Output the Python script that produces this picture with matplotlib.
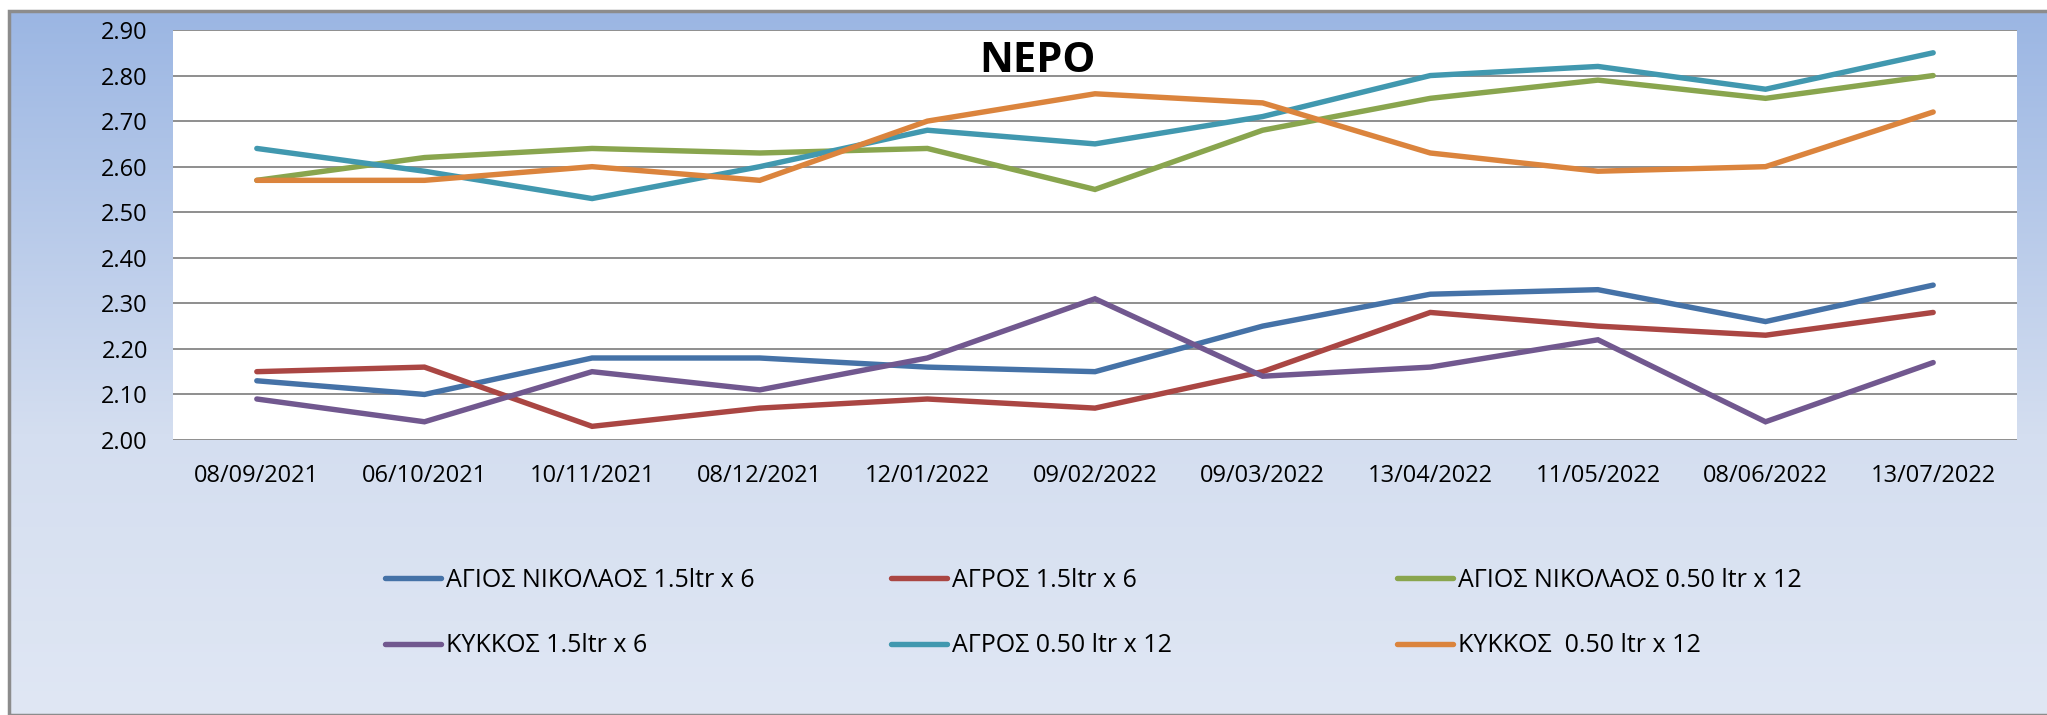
import numpy as np
import matplotlib.pyplot as plt
from matplotlib.patches import Rectangle

plt.rcParams['font.family'] = ['Open Sans', 'DejaVu Sans']

dates = ['08/09/2021', '06/10/2021', '10/11/2021', '08/12/2021', '12/01/2022', '09/02/2022',
         '09/03/2022', '13/04/2022', '11/05/2022', '08/06/2022', '13/07/2022']

agios_15 = [2.13, 2.10, 2.18, 2.18, 2.16, 2.15, 2.25, 2.32, 2.33, 2.26, 2.34]
agros_15 = [2.15, 2.16, 2.03, 2.07, 2.09, 2.07, 2.15, 2.28, 2.25, 2.23, 2.28]
agios_050 = [2.57, 2.62, 2.64, 2.63, 2.64, 2.55, 2.68, 2.75, 2.79, 2.75, 2.80]
kykkos_15 = [2.09, 2.04, 2.15, 2.11, 2.18, 2.31, 2.14, 2.16, 2.22, 2.04, 2.17]
agros_050 = [2.64, 2.59, 2.53, 2.60, 2.68, 2.65, 2.71, 2.80, 2.82, 2.77, 2.85]
kykkos_050 = [2.57, 2.57, 2.60, 2.57, 2.70, 2.76, 2.74, 2.63, 2.59, 2.60, 2.72]

names = ['ΑΓΙΟΣ ΝΙΚΟΛΑΟΣ 1.5ltr x 6', 'ΑΓΡΟΣ 1.5ltr x 6', 'ΑΓΙΟΣ ΝΙΚΟΛΑΟΣ 0.50 ltr x 12',
         'ΚΥΚΚΟΣ 1.5ltr x 6', 'ΑΓΡΟΣ 0.50 ltr x 12', 'ΚΥΚΚΟΣ  0.50 ltr x 12']
series = [agios_15, agros_15, agios_050, kykkos_15, agros_050, kykkos_050]
colors = ['#4572a7', '#aa4643', '#89a54e', '#71588f', '#4198af', '#db843d']

fig = plt.figure(figsize=(20.47, 7.15), dpi=100)

# gradient background with frame
bg = fig.add_axes([9 / 2047, 0, 1 - 9 / 2047, 1 - 11 / 715], zorder=0)
top = np.array([155, 182, 227]) / 255
mid = np.array([212, 222, 240]) / 255
bot = np.array([224, 231, 244]) / 255
t = np.linspace(0, 1, 300)[:, None]
grad = np.where(t < 0.6, top + (mid - top) * (t / 0.6), mid + (bot - mid) * ((t - 0.6) / 0.4))
bg.imshow(grad[:, None, :], aspect='auto', extent=[0, 1, 0, 1])
bg.add_patch(Rectangle((0, 0), 1.2, 1, transform=bg.transAxes, fill=False,
                       edgecolor='#8c8c8c', linewidth=2.5, clip_on=False))
bg.set_xlim(0, 1)
bg.set_ylim(0, 1)
bg.axis('off')

ax = fig.add_axes([173 / 2047, 1 - 440 / 715, (2017 - 173) / 2047, 410 / 715], zorder=1)
ax.set_facecolor('white')
x = np.arange(len(dates))
lines = []
for vals, name, c in zip(series, names, colors):
    ln, = ax.plot(x, vals, color=c, linewidth=3.9, label=name, solid_capstyle='round',
                  solid_joinstyle='miter', zorder=3)
    lines.append(ln)

ax.set_xlim(-0.5, len(dates) - 0.5)
ax.set_ylim(2.0, 2.9)
ax.set_yticks(np.arange(2.0, 2.91, 0.1))
ax.set_yticklabels(['%.2f' % v for v in np.arange(2.0, 2.91, 0.1)])
ax.set_xticks(x)
ax.set_xticklabels(dates)
ax.tick_params(axis='y', length=0, pad=18, labelsize=17)
ax.tick_params(axis='x', length=0, pad=17, labelsize=17)
ax.grid(axis='y', color='#868686', linewidth=1.3, zorder=1)
for s in ax.spines.values():
    s.set_visible(False)

fig.text(1037 / 2047, 1 - 61 / 715, 'ΝΕΡΟ', ha='center', va='center', fontsize=30, fontweight='bold')

# legend, one block per column
col_x = [385, 891, 1397]
for i in range(3):
    leg = fig.legend([lines[i], lines[i + 3]], [names[i], names[i + 3]], loc='center left',
                     bbox_to_anchor=(col_x[i] / 2047, 1 - 613 / 715), frameon=False, fontsize=18,
                     handlelength=2.25, handletextpad=0.2, labelspacing=1.62, borderpad=0,
                     borderaxespad=0)

fig.savefig('out.png', dpi=100)
